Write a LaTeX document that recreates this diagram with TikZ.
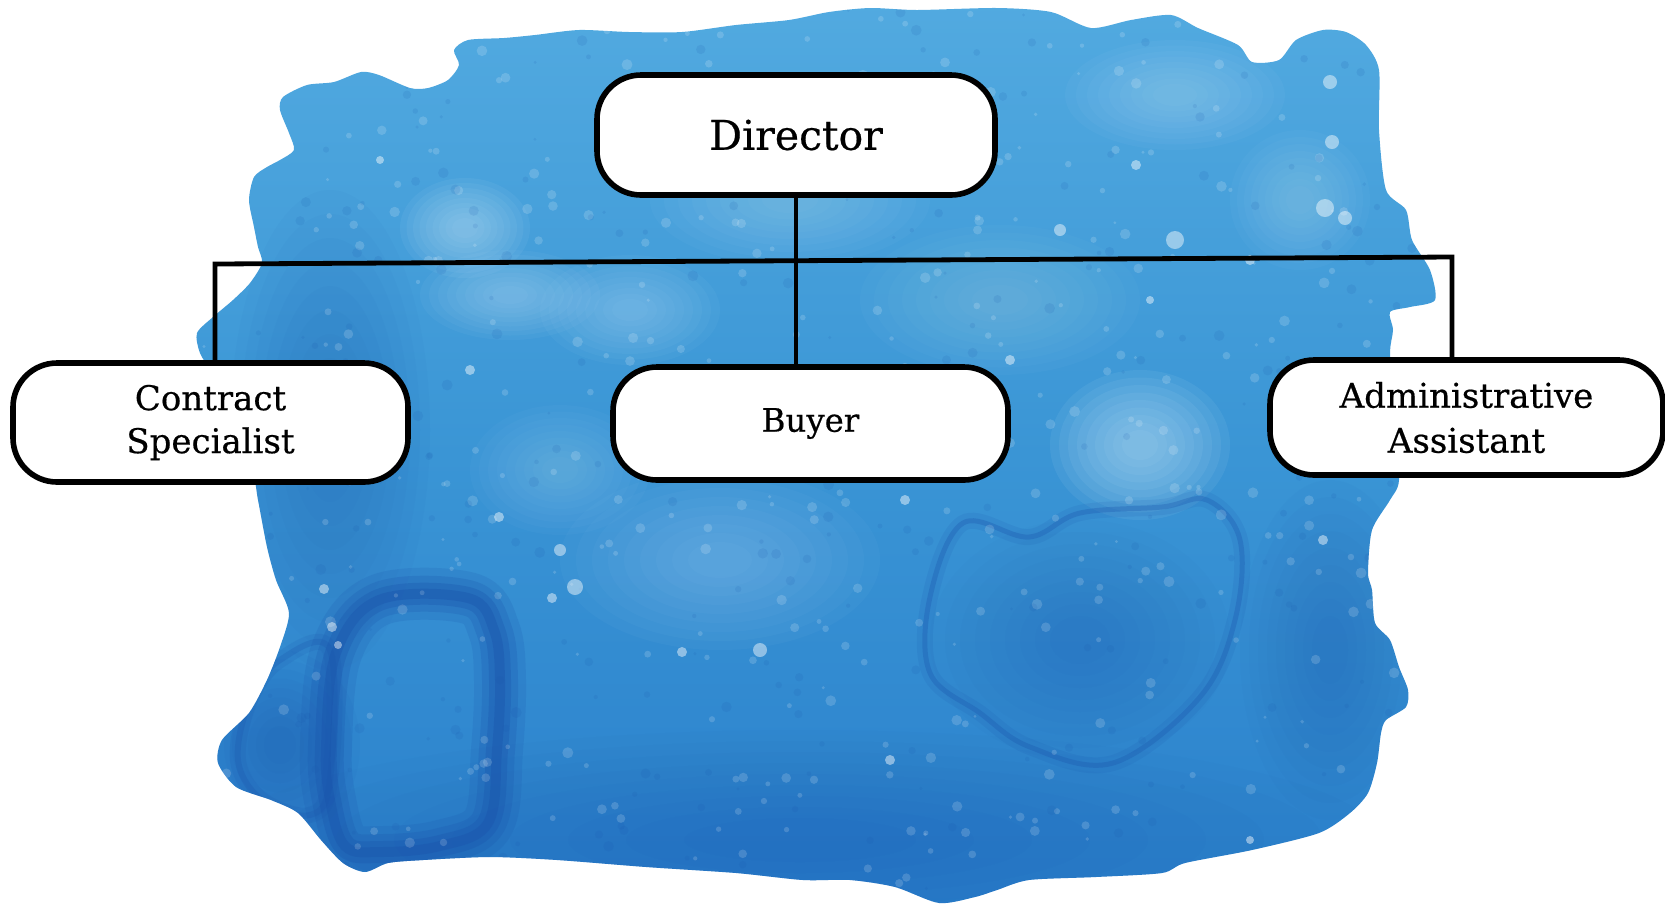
\documentclass[tikz,border=0pt]{standalone}
\usepackage{fontspec}
\setmainfont{DejaVu Serif}[FakeBold=0.5]
\definecolor{waterbase}{HTML}{3A95D5}
\definecolor{watertop}{HTML}{52AAE0}
\definecolor{waterbottom}{HTML}{2A80CC}
\definecolor{waterdark}{HTML}{1A54AC}
\definecolor{waterlight}{HTML}{B4DDF5}
% a soft patch of colour: concentric ellipses of low opacity
\newcommand\softspot[6]{%
  \foreach \k in {1,0.9,0.8,0.7,0.6,0.5,0.4,0.3,0.2}{%
    \fill[#1, opacity=#2] (#3,#4) ellipse ({#5*\k} and {#6*\k});}}
\begin{document}
\begin{tikzpicture}[x=0.5pt,y=-0.5pt,
  role/.style={draw=black, line width=2.8pt, fill=white, rounded corners=22pt,
    align=center, inner sep=0pt},
  link/.style={draw=black, line width=2.4pt},
  speck/.style={fill=white, opacity=0.45},
]
\useasboundingbox (0,0) rectangle (1665,912);

% watercolour wash behind the chart
\begin{scope}
  \clip plot[smooth cycle, tension=0.45] coordinates {
    (283,97) (307,85) (334,82) (361,72) (379,75) (410,88) (428,88) (448,80)
    (459,65) (454,50) (468,40) (504,38) (535,35) (579,30) (629,32) (682,32)
    (736,25) (789,20) (829,12) (870,8) (917,10) (997,8) (1051,12) (1091,28)
    (1131,20) (1171,15) (1198,28) (1238,45) (1252,62) (1279,60) (1296,40)
    (1323,30) (1346,32) (1366,45) (1379,70) (1379,130) (1386,190) (1406,210)
    (1412,240) (1430,270) (1435,300) (1410,307) (1390,312) (1393,330)
    (1390,355) (1395,420) (1399,480) (1390,500) (1372,530) (1368,573)
    (1372,590) (1375,623) (1390,640) (1399,667) (1408,690) (1406,707)
    (1386,720) (1381,733) (1377,763) (1368,793) (1350,813) (1319,833)
    (1252,850) (1185,863) (1162,873) (1096,877) (1029,880) (997,890)
    (975,897) (939,903) (895,887) (850,880) (803,880) (736,873) (646,867)
    (557,860) (490,857) (423,860) (388,863) (365,872) (343,863) (321,840)
    (298,813) (271,800) (236,787) (218,763) (222,740) (249,713) (267,680)
    (280,647) (289,613) (276,580) (267,547) (258,500) (250,460) (215,380)
    (200,353) (197,333) (213,317) (233,300) (250,283) (262,263) (258,247)
    (254,227) (249,200) (254,177) (267,167) (280,160) (294,150) (289,133)
    (280,110)};
  \shade[top color=watertop, bottom color=waterbottom, middle color=waterbase]
    (150,0) rectangle (1500,912);
  % lighter washes
  \softspot{waterlight}{0.08}{465}{228}{65}{50}
  \softspot{waterlight}{0.06}{510}{295}{90}{45}
  \softspot{waterlight}{0.05}{630}{310}{90}{55}
  \softspot{waterlight}{0.045}{790}{200}{140}{65}
  \softspot{waterlight}{0.09}{1140}{445}{90}{75}
  \softspot{waterlight}{0.05}{1175}{95}{110}{55}
  \softspot{waterlight}{0.045}{1300}{200}{70}{70}
  \softspot{waterlight}{0.04}{720}{560}{160}{90}
  \softspot{waterlight}{0.035}{1000}{300}{140}{75}
  \softspot{waterlight}{0.035}{560}{470}{90}{65}
  % darker washes
  \softspot{waterdark}{0.035}{330}{430}{100}{240}
  \softspot{waterdark}{0.035}{800}{840}{580}{110}
  \softspot{waterdark}{0.035}{1330}{650}{90}{170}
  \softspot{waterdark}{0.05}{280}{745}{80}{95}
  \softspot{waterdark}{0.03}{1080}{640}{150}{120}
  % tide mark, lower left
  \foreach \w/\o in {26pt/0.16, 18pt/0.22, 11pt/0.3, 5pt/0.38}
    \draw[waterdark, opacity=\o, line width=\w]
      plot[smooth cycle, tension=0.6] coordinates {
      (379,600) (468,598) (494,630) (500,680) (497,750) (488,823) (440,846)
      (380,852) (345,846) (330,800) (326,747) (336,653)};
  \foreach \w/\o in {8pt/0.14, 3pt/0.24}
    \draw[waterdark, opacity=\o, line width=\w]
      plot[smooth cycle, tension=0.6] coordinates {
      (330,650) (280,660) (250,700) (238,760) (262,800) (310,815) (330,780)};
  % tide mark, lower right
  \foreach \w/\o in {8pt/0.12, 2.5pt/0.3}
    \draw[waterdark, opacity=\o, line width=\w]
      plot[smooth cycle, tension=0.6] coordinates {
      (1207,500) (1162,507) (1080,513) (1029,537) (963,523) (930,597)
      (930,673) (980,713) (1030,747) (1113,763) (1200,697)
      (1235,620) (1240,540)};
  % grain of the paper
  \pgfmathsetseed{4217}
  \foreach \i in {1,...,420} {
    \pgfmathsetmacro{\gx}{190+1260*rnd}
    \pgfmathsetmacro{\gy}{10+890*rnd}
    \pgfmathsetmacro{\gr}{1.5+4*rnd}
    \fill[white, opacity=0.16] (\gx,\gy) circle (\gr);
  }
  \foreach \i in {1,...,300} {
    \pgfmathsetmacro{\gx}{190+1260*rnd}
    \pgfmathsetmacro{\gy}{10+890*rnd}
    \pgfmathsetmacro{\gr}{1.5+4*rnd}
    \fill[waterdark, opacity=0.12] (\gx,\gy) circle (\gr);
  }
  % pigment-free specks
  \foreach \px/\py/\pr in {324/589/5, 332/627/5, 338/645/4, 499/517/5,
      575/587/8, 682/652/5, 1136/165/5, 1330/82/7, 1332/142/7, 1325/208/9,
      1345/218/7, 1175/240/9, 1323/540/5, 560/550/6, 552/598/5, 640/470/6,
      1010/360/5, 1150/300/4, 1250/260/5, 470/370/5, 760/650/7, 905/500/5,
      1060/230/6, 380/160/4, 700/100/5, 1250/840/4, 890/760/5}
    \fill[speck] (\px,\py) circle (\pr);
\end{scope}

% organisation chart
\node[role, minimum width=199pt, minimum height=60pt,
  font=\fontsize{20.5}{24}\selectfont] (dir) at (796,135) {Director};
\node[role, minimum width=197.5pt, minimum height=59.5pt,
  font=\fontsize{17}{21.5}\selectfont] (cs) at (210.5,422.5) {Contract\\Specialist};
\node[role, minimum width=197.5pt, minimum height=56.5pt,
  font=\fontsize{16.2}{20}\selectfont] (buy) at (810.5,423.5) {Buyer};
\node[role, minimum width=196.5pt, minimum height=57.5pt,
  font=\fontsize{17}{22.5}\selectfont] (aa) at (1466.5,417.5) {Administrative\\Assistant};

\coordinate (busL) at (215,264);
\coordinate (busR) at (1452,257);
\draw[link] (dir.south) -- (dir.south |- buy.north);
\draw[link] (busL |- cs.north) -- (busL) -- (busR) -- (busR |- aa.north);
\end{tikzpicture}
\end{document}
